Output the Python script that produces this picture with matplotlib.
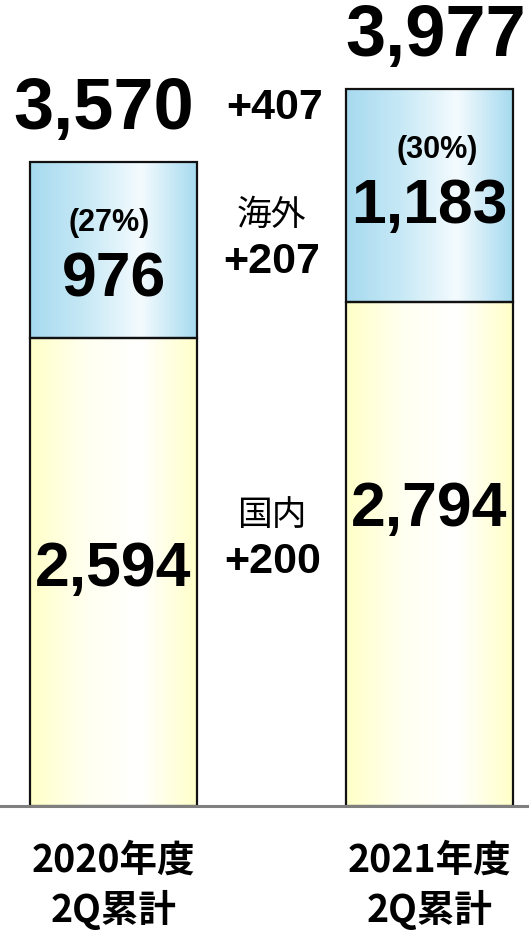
import numpy as np
import matplotlib
matplotlib.use('Agg')
import matplotlib.pyplot as plt
from matplotlib.colors import LinearSegmentedColormap

# data (億円)
years = ['2020年度\n2Q累計', '2021年度\n2Q累計']
domestic = [2594, 2794]
overseas = [976, 1183]
totals = [3570, 3977]
overseas_share = ['(27%)', '(30%)']
diff_total = '+407'
diff_overseas = '+207'
diff_domestic = '+200'

num_font = 'Liberation Sans'
jp_font = ['Noto Sans CJK JP', 'DejaVu Sans']

fig = plt.figure(figsize=(5.29, 9.34), dpi=100)
ax = fig.add_axes([0, 0, 1, 1])
px = 0.1804  # pixels per unit
ax.axis('off')

x = np.arange(len(years))
w = 167 / 316

yellow = LinearSegmentedColormap.from_list('y', ['#ffffc8', '#fffff0', '#ffffff', '#ffffc8'])
blue = LinearSegmentedColormap.from_list('b', ['#a6daef', '#c8e9f6', '#f4fbfe', '#a6daef'])
grad = np.linspace(0, 1, 256).reshape(1, -1)


def grad_bars(bars, cmap):
    for b in bars:
        x0, y0 = b.get_x(), b.get_y()
        im = ax.imshow(grad, cmap=cmap, extent=(x0, x0 + b.get_width(), y0, y0 + b.get_height()),
                       aspect='auto', zorder=1)
        im.set_clip_path(b)
        b.set_facecolor('none')
        b.set_zorder(2)


b1 = ax.bar(x, domestic, w, edgecolor='#111111', linewidth=1.6)
b2 = ax.bar(x, overseas, w, bottom=domestic, edgecolor='#111111', linewidth=1.6)
grad_bars(b1, yellow)
grad_bars(b2, blue)
ax.set_xlim(-113.5 / 316, 1 + 99.5 / 316)
ax.set_ylim(-128 / px, 806 / px)

ax.axhline(0, color='#7f7f7f', lw=2.2, zorder=3)

tot_dx = [-0.03, 0.02]
pct_dx = [-0.015, 0.025]
for i in range(2):
    ax.text(x[i] + tot_dx[i], totals[i] + 52 / px, f'{totals[i]:,}', ha='center', va='center',
            fontsize=52, fontweight='bold', family=num_font)
    ax.text(x[i] + pct_dx[i], totals[i] - 61 / px, overseas_share[i], ha='center',
            va='center', fontsize=22, fontweight='bold', family=num_font)
    ax.text(x[i], totals[i] - 118 / px, f'{overseas[i]:,}', ha='center', va='center',
            fontsize=45, fontweight='bold', family=num_font)
    ax.text(x[i], -54 / px, years[i].split('\n')[0], ha='center', va='center',
            fontsize=27, fontweight='bold', family=jp_font)
    ax.text(x[i], -104 / px, years[i].split('\n')[1], ha='center', va='center',
            fontsize=27, fontweight='bold', family=jp_font)

dom_y = [236 / px, 296 / px]
for i in range(2):
    ax.text(x[i], dom_y[i], f'{domestic[i]:,}', ha='center', va='center',
            fontsize=45, fontweight='bold', family=num_font)

mid = 0.5
ax.text(mid + 0.01, 698 / px, diff_total, ha='center', va='center', fontsize=31,
        fontweight='bold', family=num_font)
ax.text(mid, 591 / px, '海外', ha='center', va='center', fontsize=25, family=jp_font)
ax.text(mid, 544 / px, diff_overseas, ha='center', va='center', fontsize=31,
        fontweight='bold', family=num_font)
ax.text(mid, 291 / px, '国内', ha='center', va='center', fontsize=25, family=jp_font)
ax.text(mid + 0.005, 244 / px, diff_domestic, ha='center', va='center', fontsize=31,
        fontweight='bold', family=num_font)

fig.savefig('out.png', dpi=100)
